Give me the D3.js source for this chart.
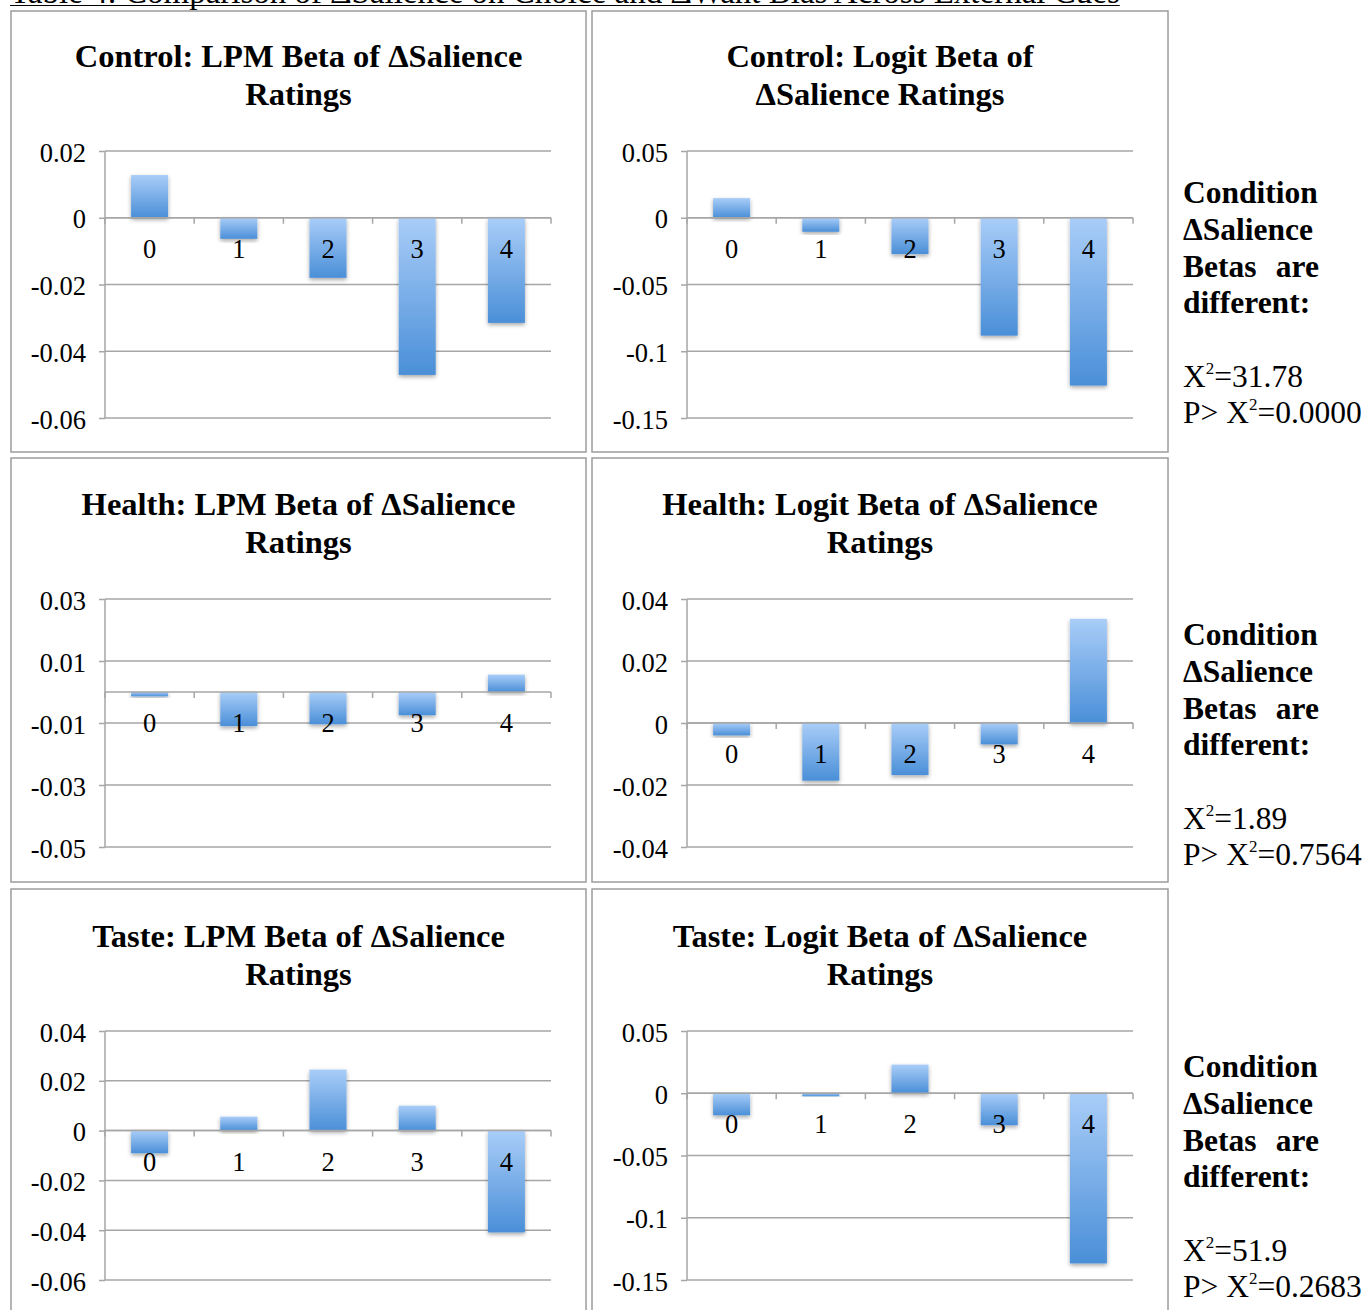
<!DOCTYPE html>
<html>
<head>
<meta charset="utf-8">
<script src="https://cdn.jsdelivr.net/npm/d3@7"></script>
<style>
  body { margin: 0; background: #fff; }
  svg { display: block; }
  text { font-family: "Liberation Serif", "Times New Roman", Times, serif; fill: #000; }
</style>
</head>
<body>
<svg id="chart" width="1369" height="1310"></svg>
<script>
// ---- data ----
const categories = ["0", "1", "2", "3", "4"];

const controlLpm   = [0.0128, -0.0063, -0.0180, -0.0471, -0.0315];
const controlLogit = [0.0147, -0.0105, -0.0272, -0.0883, -0.1257];
const healthLpm    = [-0.0014, -0.0110, -0.0104, -0.0075, 0.0056];
const healthLogit  = [-0.0040, -0.0186, -0.0168, -0.0069, 0.0336];
const tasteLpm     = [-0.0091, 0.0056, 0.0245, 0.0100, -0.0409];
const tasteLogit   = [-0.0177, -0.0024, 0.0230, -0.0257, -0.1367];

const controlLpmTicks   = [0.02, 0, -0.02, -0.04, -0.06];
const controlLogitTicks = [0.05, 0, -0.05, -0.1, -0.15];
const healthLpmTicks    = [0.03, 0.01, -0.01, -0.03, -0.05];
const healthLogitTicks  = [0.04, 0.02, 0, -0.02, -0.04];
const tasteLpmTicks     = [0.04, 0.02, 0, -0.02, -0.04, -0.06];
const tasteLogitTicks   = [0.05, 0, -0.05, -0.1, -0.15];

const chiSquare  = ["31.78", "1.89", "51.9"];
const pValue     = ["0.0000", "0.7564", "0.2683"];

const docTitle = "Table 4: Comparison of \u0394Salience on Choice and \u0394Want Bias Across External Cues";

// ---- layout ----
const svg = d3.select("#chart");
const defs = svg.append("defs");

const grad = defs.append("linearGradient")
  .attr("id", "barFill").attr("x1", 0).attr("y1", 0).attr("x2", 0).attr("y2", 1);
grad.append("stop").attr("offset", "0%").attr("stop-color", "#a9cdf8");
grad.append("stop").attr("offset", "100%").attr("stop-color", "#4a8fd8");

const shadow = defs.append("filter").attr("id", "barShadow")
  .attr("x", "-20%").attr("y", "-20%").attr("width", "140%").attr("height", "140%");
shadow.append("feDropShadow")
  .attr("dx", 0).attr("dy", 2).attr("stdDeviation", 2)
  .attr("flood-color", "#000").attr("flood-opacity", 0.35);

const GRID = "#a6a6a6";
const FRAME = "#9c9c9c";

const cols = [
  { frameX0: 11, frameX1: 586, plotX0: 105, plotX1: 551 },
  { frameX0: 592, frameX1: 1168, plotX0: 687, plotX1: 1133 }
];
const rows = [
  { frameY0: 11, frameY1: 452, plotY0: 151, plotY1: 418, titleY: 67, noteY: 203 },
  { frameY0: 458, frameY1: 882, plotY0: 599, plotY1: 847, titleY: 515, noteY: 645 },
  { frameY0: 889, frameY1: 1330, plotY0: 1031, plotY1: 1280, titleY: 947, noteY: 1077 }
];

const panels = [
  { row: 0, col: 0, values: controlLpm,   ticks: controlLpmTicks,   title: ["Control: LPM Beta of \u0394Salience", "Ratings"] },
  { row: 0, col: 1, values: controlLogit, ticks: controlLogitTicks, title: ["Control: Logit Beta of", "\u0394Salience Ratings"] },
  { row: 1, col: 0, values: healthLpm,    ticks: healthLpmTicks,    title: ["Health: LPM Beta of \u0394Salience", "Ratings"] },
  { row: 1, col: 1, values: healthLogit,  ticks: healthLogitTicks,  title: ["Health: Logit Beta of \u0394Salience", "Ratings"] },
  { row: 2, col: 0, values: tasteLpm,     ticks: tasteLpmTicks,     title: ["Taste: LPM Beta of \u0394Salience", "Ratings"] },
  { row: 2, col: 1, values: tasteLogit,   ticks: tasteLogitTicks,   title: ["Taste: Logit Beta of \u0394Salience", "Ratings"] }
];

const fmt = d => String(+d.toFixed(3));

// ---- document heading (runs off the top of the page) ----
const head = svg.append("text")
  .attr("x", 10).attr("y", 3)
  .attr("font-size", 33)
  .text(docTitle);
const headLen = head.node().getComputedTextLength();
svg.append("line")
  .attr("x1", 10).attr("x2", 10 + headLen)
  .attr("y1", 5.5).attr("y2", 5.5)
  .attr("stroke", "#000").attr("stroke-width", 1.2);

// ---- panels ----
panels.forEach(p => {
  const c = cols[p.col], r = rows[p.row];
  const g = svg.append("g");

  g.append("rect")
    .attr("x", c.frameX0).attr("y", r.frameY0)
    .attr("width", c.frameX1 - c.frameX0).attr("height", r.frameY1 - r.frameY0)
    .attr("fill", "#fff").attr("stroke", FRAME).attr("stroke-width", 1.5);

  const cx = (c.frameX0 + c.frameX1) / 2;
  p.title.forEach((line, i) => {
    g.append("text")
      .attr("x", cx).attr("y", r.titleY + i * 38)
      .attr("text-anchor", "middle")
      .attr("font-size", 32.5).attr("font-weight", "bold")
      .text(line);
  });

  const y = d3.scaleLinear()
    .domain(d3.extent(p.ticks))
    .range([r.plotY1, r.plotY0]);

  const pad = 0.585;
  const x = d3.scaleBand()
    .domain(categories)
    .range([c.plotX0, c.plotX1])
    .paddingInner(pad).paddingOuter(pad / 2);
  const step = x.step();

  // gridlines
  g.append("g").selectAll("line")
    .data(p.ticks)
    .join("line")
    .attr("x1", c.plotX0).attr("x2", c.plotX1)
    .attr("y1", d => y(d)).attr("y2", d => y(d))
    .attr("stroke", GRID).attr("stroke-width", 1.5);

  // value axis
  const yAxis = g.append("g")
    .attr("transform", `translate(${c.plotX0},0)`)
    .call(d3.axisLeft(y).tickValues(p.ticks).tickFormat(fmt).tickSize(6).tickPadding(13));
  yAxis.select(".domain").remove();
  yAxis.selectAll(".tick line").attr("stroke", GRID).attr("stroke-width", 1.5);
  yAxis.selectAll(".tick text")
    .attr("font-size", 26.5)
    .attr("font-family", "Liberation Serif, Times New Roman, serif")
    .attr("fill", "#000")
    .attr("dy", "0.38em");
  g.append("line")
    .attr("x1", c.plotX0).attr("x2", c.plotX0)
    .attr("y1", r.plotY0).attr("y2", r.plotY1)
    .attr("stroke", GRID).attr("stroke-width", 1.5);

  // bars
  g.append("g").selectAll("rect")
    .data(p.values)
    .join("rect")
    .attr("x", (d, i) => x(categories[i]))
    .attr("width", x.bandwidth())
    .attr("y", d => y(Math.max(0, d)))
    .attr("height", d => Math.abs(y(d) - y(0)))
    .attr("fill", "url(#barFill)")
    .attr("filter", "url(#barShadow)");

  // category axis at zero
  const y0 = y(0);
  g.append("line")
    .attr("x1", c.plotX0).attr("x2", c.plotX1)
    .attr("y1", y0).attr("y2", y0)
    .attr("stroke", GRID).attr("stroke-width", 1.5);
  const bounds = categories.map(cat => x(cat) + x.bandwidth() / 2 - step / 2)
    .concat([c.plotX1]);
  g.append("g").selectAll("line")
    .data(bounds)
    .join("line")
    .attr("x1", d => d).attr("x2", d => d)
    .attr("y1", y0).attr("y2", y0 + 6)
    .attr("stroke", GRID).attr("stroke-width", 1.5);

  g.append("g").selectAll("text")
    .data(categories)
    .join("text")
    .attr("x", d => x(d) + x.bandwidth() / 2)
    .attr("y", y0 + 40)
    .attr("text-anchor", "middle")
    .attr("font-size", 26.5)
    .text(d => d);
});

// ---- test results beside each row ----
rows.forEach((r, i) => {
  const base = r.noteY;
  const g = svg.append("g");
  const x0 = 1183, x1 = 1319;
  const bold = (txt, yy, anchor, xx) => g.append("text")
    .attr("x", xx).attr("y", yy).attr("text-anchor", anchor)
    .attr("font-size", 31.5).attr("font-weight", "bold").text(txt);
  bold("Condition", base, "start", x0);
  bold("\u0394Salience", base + 37, "start", x0);
  bold("Betas", base + 74, "start", x0);
  bold("are", base + 74, "end", x1);
  bold("different:", base + 110, "start", x0);

  const stat = (prefix, value, yy) => {
    const t = g.append("text").attr("x", x0).attr("y", yy).attr("font-size", 31.5);
    t.append("tspan").text(prefix + "X");
    t.append("tspan").attr("font-size", 17).attr("dy", -13).text("2");
    t.append("tspan").attr("dy", 13).text("=" + value);
  };
  stat("", chiSquare[i], base + 184);
  stat("P> ", pValue[i], base + 220);
});
</script>
</body>
</html>
